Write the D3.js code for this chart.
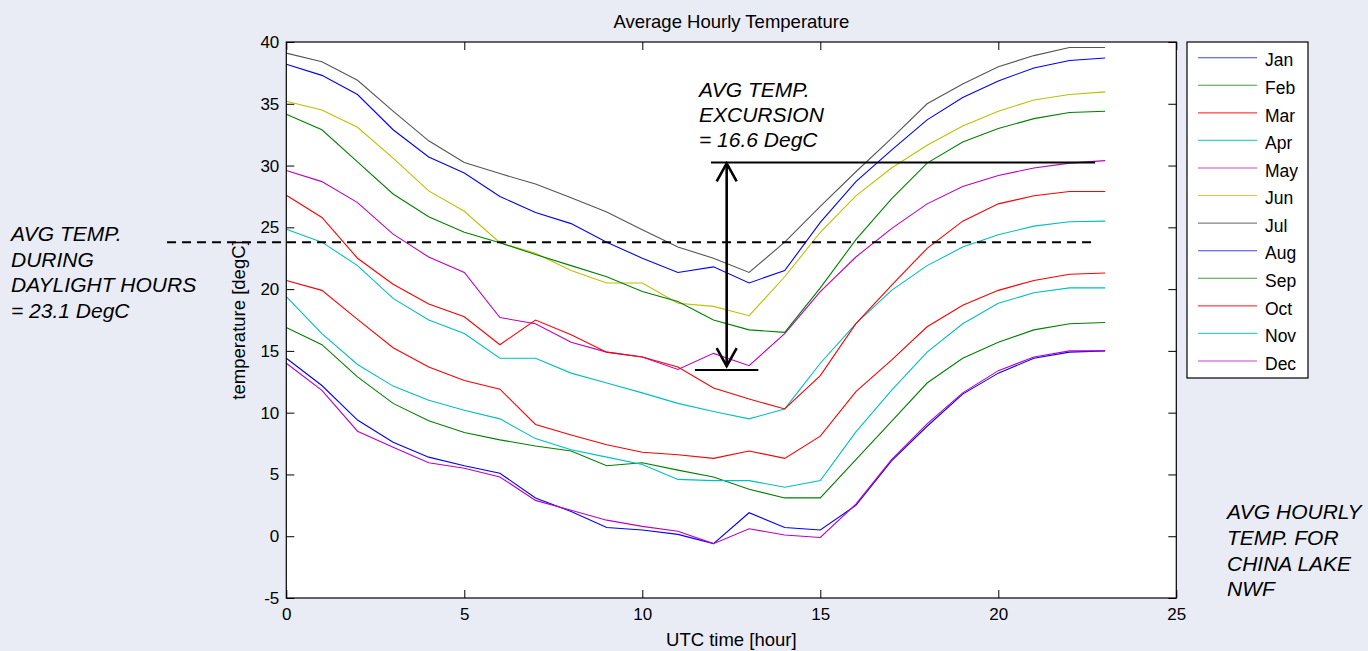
<!DOCTYPE html>
<html>
<head>
<meta charset="utf-8">
<script src="https://cdn.jsdelivr.net/npm/d3@7"></script>
<style>
  html, body { margin: 0; padding: 0; background: #e9ecf5; }
  svg { display: block; }
  text { font-family: "Liberation Sans", Arial, Helvetica, sans-serif; fill: #000; }
</style>
</head>
<body>
<svg id="chart" width="1368" height="651"></svg>
<script>
// ---------------- data ----------------
const hours = [0,1,2,3,4,5,6,7,8,9,10,11,12,13,14,15,16,17,18,19,20,21,22,23];
const months = ["Jan","Feb","Mar","Apr","May","Jun","Jul","Aug","Sep","Oct","Nov","Dec"];
const jan = [14.4,12.2,9.4,7.6,6.4,5.7,5.1,3.1,2.0,0.7,0.5,0.15,-0.6,1.9,0.7,0.5,2.5,6.1,8.9,11.5,13.2,14.4,14.9,15.0];
const feb = [16.9,15.5,12.9,10.75,9.35,8.4,7.8,7.3,6.9,5.7,5.95,5.35,4.8,3.8,3.1,3.1,6.2,9.3,12.4,14.4,15.7,16.7,17.2,17.3];
const mar = [20.7,19.9,17.55,15.25,13.7,12.6,11.9,9.05,8.2,7.4,6.8,6.6,6.3,6.9,6.3,8.1,11.7,14.25,16.95,18.7,19.9,20.7,21.2,21.3];
const apr = [24.85,23.8,21.9,19.25,17.5,16.4,14.4,14.4,13.2,12.4,11.6,10.75,10.1,9.5,10.3,14.0,17.2,19.9,21.9,23.4,24.4,25.1,25.45,25.5];
const may = [29.6,28.7,27.0,24.45,22.6,21.35,17.7,17.2,15.7,14.9,14.5,13.5,14.8,13.8,16.4,19.8,22.6,24.9,26.9,28.3,29.2,29.8,30.2,30.4];
const jun = [35.2,34.5,33.1,30.6,27.95,26.3,23.75,22.9,21.5,20.5,20.5,18.85,18.6,17.85,21.0,24.6,27.55,29.8,31.65,33.2,34.4,35.3,35.75,35.96];
const jul = [39.1,38.4,36.9,34.4,32.0,30.25,29.35,28.5,27.4,26.25,24.8,23.4,22.5,21.35,23.8,26.7,29.5,32.2,35.0,36.6,38.0,38.9,39.55,39.55];
const aug = [38.2,37.3,35.75,32.9,30.7,29.4,27.5,26.2,25.3,23.8,22.5,21.35,21.8,20.5,21.5,25.4,28.7,31.25,33.7,35.5,36.85,37.9,38.5,38.7];
const sep = [34.16,32.9,30.3,27.7,25.85,24.6,23.75,22.8,21.9,21.0,19.8,19.0,17.5,16.7,16.5,20.1,24.0,27.3,30.2,31.9,33.0,33.8,34.3,34.4];
const oct = [27.6,25.8,22.5,20.4,18.8,17.76,15.5,17.5,16.3,14.9,14.5,13.7,12.0,11.1,10.3,13.0,17.2,20.3,23.3,25.5,26.9,27.55,27.9,27.9];
const nov = [19.4,16.4,13.9,12.15,11.0,10.2,9.5,7.9,7.0,6.4,5.8,4.6,4.5,4.5,3.96,4.5,8.45,11.8,14.9,17.2,18.85,19.7,20.1,20.1];
const dec = [14.0,11.8,8.5,7.2,5.95,5.5,4.8,2.9,2.1,1.3,0.8,0.4,-0.6,0.6,0.1,-0.1,2.6,6.2,9.1,11.6,13.4,14.5,15.0,15.0];
const seriesValues = [jan,feb,mar,apr,may,jun,jul,aug,sep,oct,nov,dec];
const xTicks = [0,5,10,15,20,25];
const yTicks = [-5,0,5,10,15,20,25,30,35,40];
// annotation values (data units)
const daylightAvgLine = {x0: -3.35, x1: 22.63, y: 23.8};
const excursionTop = {x0: 11.93, x1: 22.72, y: 30.25};
const excursionBottom = {x0: 11.48, x1: 13.26, y: 13.45};
const excursionArrowX = 12.37;

// ---------------- layout ----------------
const colors = ["#0000ff","#008000","#ff0000","#00bfbf","#bf00bf","#bfbf00","#555555","#0000ff","#008000","#ff0000","#00bfbf","#bf00bf"];
const plot = {left: 286.3, right: 1176.3, top: 42, bottom: 598};
const svg = d3.select("#chart");
const x = d3.scaleLinear().domain([0,25]).range([plot.left, plot.right]);
const y = d3.scaleLinear().domain([-5,40]).range([plot.bottom, plot.top]);

svg.append("rect").attr("x",plot.left).attr("y",plot.top)
  .attr("width",plot.right-plot.left).attr("height",plot.bottom-plot.top)
  .attr("fill","#fff");

const tickLen = 8;
const fmt = d => String(d);
// axes
const gx = svg.append("g").attr("transform",`translate(0,${plot.bottom})`)
  .call(d3.axisBottom(x).tickValues(xTicks).tickSize(-tickLen).tickPadding(10).tickFormat(fmt));
const gxt = svg.append("g").attr("transform",`translate(0,${plot.top})`)
  .call(d3.axisTop(x).tickValues(xTicks).tickSize(-tickLen).tickFormat(""));
const gy = svg.append("g").attr("transform",`translate(${plot.left},0)`)
  .call(d3.axisLeft(y).tickValues(yTicks).tickSize(-tickLen).tickPadding(7).tickFormat(fmt));
const gyr = svg.append("g").attr("transform",`translate(${plot.right},0)`)
  .call(d3.axisRight(y).tickValues(yTicks).tickSize(-tickLen).tickFormat(""));
[gx,gxt,gy,gyr].forEach(g => {
  g.select(".domain").remove();
  g.selectAll(".tick line").attr("stroke","#000").attr("stroke-width",1);
  g.selectAll(".tick text").attr("font-size",17).attr("fill","#000")
    .style("font-family",'"Liberation Sans", Arial, sans-serif');
});

// series
const line = d3.line().x((d,i)=>x(hours[i])).y(d=>y(d));
svg.append("g").selectAll("path.series")
  .data(seriesValues).join("path")
  .attr("class","series")
  .attr("d", d=>line(d))
  .attr("fill","none")
  .attr("stroke",(d,i)=>colors[i])
  .attr("stroke-width",1.1);

// frame
svg.append("rect").attr("x",plot.left).attr("y",plot.top)
  .attr("width",plot.right-plot.left).attr("height",plot.bottom-plot.top)
  .attr("fill","none").attr("stroke","#000").attr("stroke-width",1.2);

// title and axis labels
svg.append("text").attr("x",(plot.left+plot.right)/2).attr("y",27.5)
  .attr("text-anchor","middle").attr("font-size",18.5).text("Average Hourly Temperature");
svg.append("text").attr("x",(plot.left+plot.right)/2).attr("y",646)
  .attr("text-anchor","middle").attr("font-size",18.5).text("UTC time [hour]");
svg.append("text").attr("transform",`translate(244.5,${(plot.top+plot.bottom)/2}) rotate(-90)`)
  .attr("text-anchor","middle").attr("font-size",18.5).text("temperature [degC]");

// legend
const leg = {x: 1187, y: 42, w: 121, h: 336, y0: 57.7, step: 27.57};
svg.append("rect").attr("x",leg.x).attr("y",leg.y).attr("width",leg.w).attr("height",leg.h)
  .attr("fill","#fff").attr("stroke","#000").attr("stroke-width",1.2);
const items = svg.append("g").selectAll("g").data(months).join("g")
  .attr("transform",(d,i)=>`translate(0,${leg.y0 + i*leg.step})`);
items.append("line").attr("x1",leg.x+11).attr("x2",leg.x+70).attr("y1",0).attr("y2",0)
  .attr("stroke",(d,i)=>colors[i]).attr("stroke-width",1.1).attr("stroke-opacity",0.75);
items.append("text").attr("x",leg.x+78).attr("y",0).attr("dy","0.5em")
  .attr("font-size",17.5).text(d=>d);

// annotations
svg.append("line").attr("x1",x(daylightAvgLine.x0)).attr("x2",x(daylightAvgLine.x1))
  .attr("y1",y(daylightAvgLine.y)).attr("y2",y(daylightAvgLine.y))
  .attr("stroke","#000").attr("stroke-width",2).attr("stroke-dasharray","9,6");
[excursionTop, excursionBottom].forEach(s => {
  svg.append("line").attr("x1",x(s.x0)).attr("x2",x(s.x1)).attr("y1",y(s.y)).attr("y2",y(s.y))
    .attr("stroke","#000").attr("stroke-width",2);
});
const ax = x(excursionArrowX), aTop = y(excursionTop.y)+1, aBot = y(excursionBottom.y)-4;
svg.append("line").attr("x1",ax).attr("x2",ax).attr("y1",aTop).attr("y2",aBot)
  .attr("stroke","#000").attr("stroke-width",2.6);
svg.append("path").attr("d",`M${ax-10},${aTop+18} L${ax},${aTop} L${ax+10},${aTop+18}`)
  .attr("fill","none").attr("stroke","#000").attr("stroke-width",2.6);
svg.append("path").attr("d",`M${ax-10},${aBot-18} L${ax},${aBot} L${ax+10},${aBot-18}`)
  .attr("fill","none").attr("stroke","#000").attr("stroke-width",2.6);

function block(lines, x0, y0, dy) {
  const t = svg.append("text").attr("font-size",21).attr("font-style","italic");
  lines.forEach((s,i)=> t.append("tspan").attr("x",x0).attr("y",y0+i*dy).text(s));
}
block(["AVG TEMP.","EXCURSION","= 16.6 DegC"], 699, 97, 25);
block(["AVG TEMP.","DURING","DAYLIGHT HOURS","= 23.1 DegC"], 11, 241, 25.5);
block(["AVG HOURLY","TEMP. FOR","CHINA LAKE","NWF"], 1227, 519, 25.8);
</script>
</body>
</html>
